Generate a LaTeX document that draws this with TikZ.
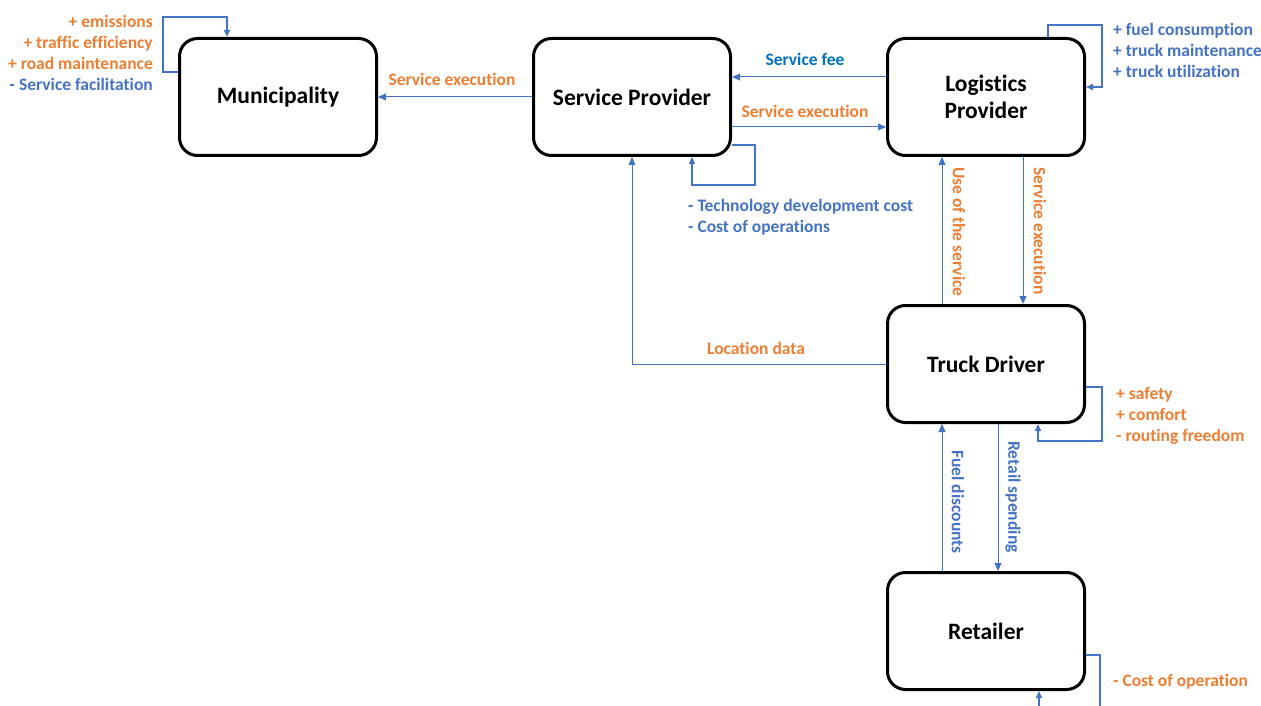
\documentclass[tikz,border=0pt]{standalone}
\usepackage{fontspec}
\setmainfont{Carlito}[Ligatures=NoCommon]
\usetikzlibrary{arrows.meta}
\definecolor{accOrange}{HTML}{ED7D31}
\definecolor{accBlue}{HTML}{4472C4}
\definecolor{feeBlue}{HTML}{0070C0}
\tikzset{
  actor/.style={draw=black, line width=3pt, rounded corners=18pt, fill=white,
    minimum width=197pt, minimum height=117pt, align=center,
    font=\fontsize{23.5}{27}\selectfont\bfseries},
  flow/.style={draw=accBlue, line width=1pt, -{Triangle[length=8pt,width=7pt]}},
  selfloop/.style={draw=accBlue, line width=2pt, -{Triangle[length=7pt,width=6pt]}},
  lbl/.style={inner sep=0pt, font=\fontsize{17.5}{21}\selectfont\bfseries},
}
\begin{document}
\begin{tikzpicture}[x=1pt,y=-1pt]
\useasboundingbox (0,0) rectangle (1261,706);

% actors
\node[actor] (muni) at (278,97) {Municipality};
\node[actor] (sp)   at (632,97) {Service Provider};
\node[actor] (lp)   at (986,97) {Logistics\\Provider};
\node[actor] (td)   at (986,364) {Truck Driver};
\node[actor] (ret)  at (986,631) {Retailer};

% flows between actors
\draw[flow] (sp.west) -- (muni.east);
\node[lbl, text=accOrange] (lSE1) at (452,79) {Service execution};

\draw[flow] ([yshift=20pt]lp.west) -- ([yshift=20pt]lp.west -| sp.east);
\node[lbl, text=feeBlue] (lFee) at (805,59) {Service fee};

\draw[flow] ([yshift=-30pt]sp.east) -- ([yshift=-30pt]sp.east -| lp.west);
\node[lbl, text=accOrange] (lSE2) at (805,111) {Service execution};

\draw[flow] ([xshift=-44pt]td.north) -- ([xshift=-44pt]lp.south);
\node[lbl, text=accOrange, rotate=-90] (lUse) at (959,232) {Use of the service};

\draw[flow] ([xshift=37pt]lp.south) -- ([xshift=37pt]td.north);
\node[lbl, text=accOrange, rotate=-90] (lSE3) at (1040,231) {Service execution};

\draw[flow] (td.west) -| (sp.south);
\node[lbl, text=accOrange] (lLoc) at (756,348) {Location data};

\draw[flow] ([xshift=-44pt]ret.north) -- ([xshift=-44pt]td.south);
\node[lbl, text=accBlue, rotate=-90] (lFuel) at (958,502) {Fuel discounts};

\draw[flow] ([xshift=12pt]td.south) -- ([xshift=12pt]ret.north);
\node[lbl, text=accBlue, rotate=-90] (lRet) at (1013,497) {Retail spending};

% self-loops
\draw[selfloop] ([yshift=25pt]muni.west) -| (163,17) -| ([xshift=-51pt]muni.north);
\node[lbl, anchor=east, align=right] (lMuni) at (153,53)
  {\textcolor{accOrange}{+ emissions}\\
   \textcolor{accOrange}{+ traffic efficiency}\\
   \textcolor{accOrange}{+ road maintenance}\\
   \textcolor{accBlue}{- Service facilitation}};

\draw[selfloop, line width=1.3pt] ([yshift=-48pt]sp.east) -| (755,185) -| ([xshift=60pt]sp.south);
\node[lbl, anchor=west, align=left, text=accBlue] (lSP) at (688,217)
  {- Technology development cost\\- Cost of operations};

\draw[selfloop] ([xshift=62pt]lp.north) |- (1102,25) |- ([yshift=10pt]lp.east);
\node[lbl, anchor=west, align=left, text=accBlue] (lLP) at (1113,50)
  {+ fuel consumption\\+ truck maintenance\\+ truck utilization};

\draw[selfloop] ([yshift=-23pt]td.east) -| (1102,441) -| ([xshift=52pt]td.south);
\node[lbl, anchor=west, align=left, text=accOrange] (lTD) at (1116,416)
  {+ safety\\+ comfort\\- routing freedom};

\begin{scope}
  \clip (0,0) rectangle (1261,706);
  \draw[selfloop] ([yshift=-24pt]ret.east) -| (1100,730) -| ([xshift=53pt]ret.south);
\end{scope}
\node[lbl, anchor=west, text=accOrange] (lRetL) at (1113,682) {- Cost of operation};
\end{tikzpicture}
\end{document}
